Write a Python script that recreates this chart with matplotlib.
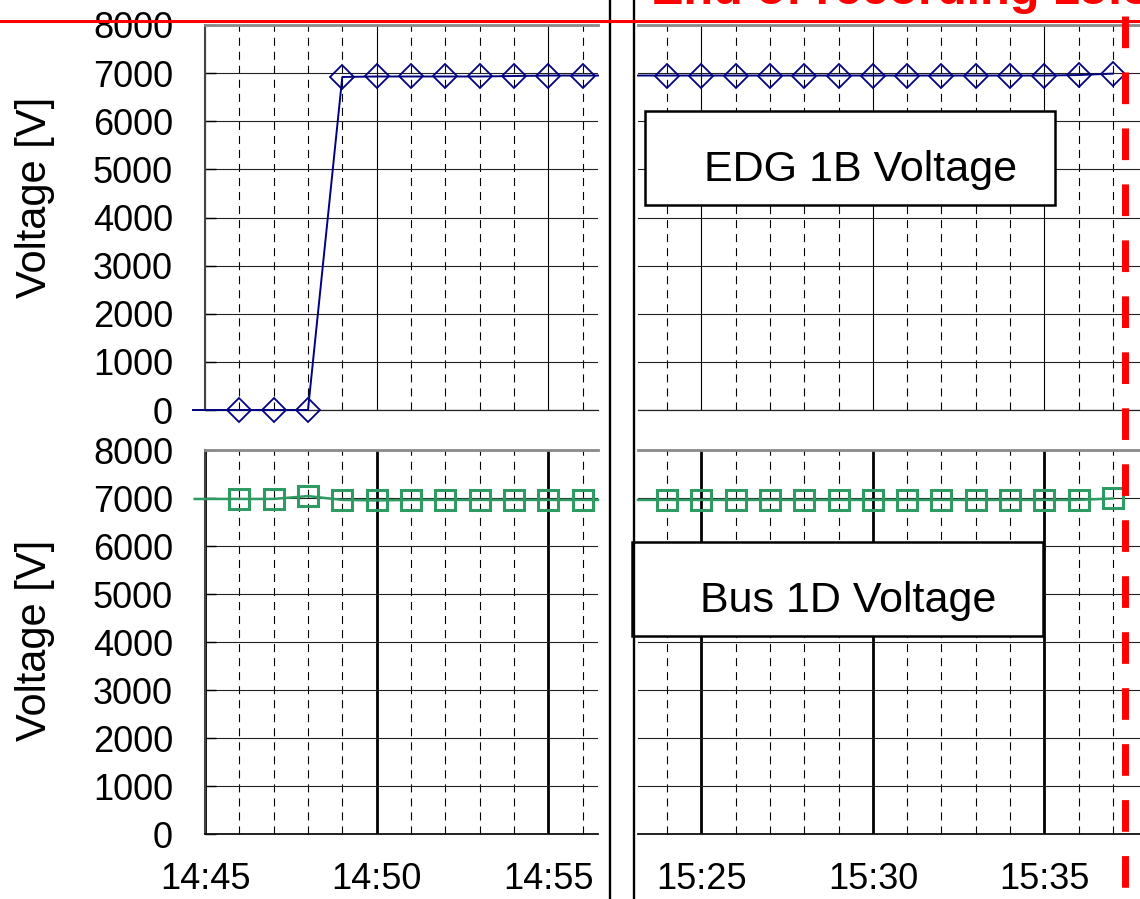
import matplotlib
matplotlib.use('Agg')
import matplotlib.pyplot as plt
from matplotlib.patches import Rectangle
from matplotlib.lines import Line2D
from matplotlib.ticker import MultipleLocator, FixedLocator

plt.rcParams['font.family'] = ['Liberation Sans', 'DejaVu Sans']
plt.rcParams['lines.scale_dashes'] = False

# ---------------- data (time = minutes after 14:00) ----------------
edg_left_t = [44.65, 46, 47, 48, 49, 50, 51, 52, 53, 54, 55, 56, 56.45]
edg_left_v = [0, 0, 0, 0, 6920, 6930, 6930, 6930, 6930, 6940, 6950, 6950, 6950]
edg_right_t = [83.15, 84, 85, 86, 87, 88, 89, 90, 91, 92, 93, 94, 95, 96, 97]
edg_right_v = [6950, 6950, 6950, 6950, 6950, 6950, 6950, 6950, 6950, 6950,
               6950, 6950, 6950, 6960, 6990]

bus_left_t = [44.7, 46, 47, 48, 49, 50, 51, 52, 53, 54, 55, 56, 56.45]
bus_left_v = [6980, 6980, 6980, 7040, 6960, 6950, 6960, 6960, 6960, 6960,
              6960, 6960, 6960]
bus_right_t = [83.15, 84, 85, 86, 87, 88, 89, 90, 91, 92, 93, 94, 95, 96, 97]
bus_right_v = [6960, 6960, 6960, 6960, 6960, 6960, 6960, 6960, 6960, 6960,
               6960, 6960, 6960, 6960, 6990]

left_ticks = [45, 50, 55]
left_tick_labels = ['14:45', '14:50', '14:55']
right_ticks = [85, 90, 95]
right_tick_labels = ['15:25', '15:30', '15:35']
y_ticks = [0, 1000, 2000, 3000, 4000, 5000, 6000, 7000, 8000]

left_xlim = (45, 56.45)
right_xlim = (83.15, 97.79)

title_edg = 'EDG 1B Voltage'
title_bus = 'Bus 1D Voltage'
ylabel = 'Voltage [V]'
red_text = 'End of recording 15:38'

# ---------------- figure ----------------
W, H = 1140, 899
fig = plt.figure(figsize=(W / 100, H / 100), dpi=100)


def fx(px):
    return px / W


def fy(py):
    return 1 - py / H


def make_ax(x0, x1, ytop, ybot):
    return fig.add_axes([fx(x0), fy(ybot), (x1 - x0) / W, (ybot - ytop) / H])


ax_tl = make_ax(205, 598, 25, 410)
ax_tr = make_ax(638, 1140, 25, 410)
ax_bl = make_ax(205, 598, 450, 834)
ax_br = make_ax(638, 1140, 450, 834)

NAVY = '#000080'
GREEN = '#2E9B63'
dash_grid = (0, (5.8, 4.3))


def style(ax, xlim, ticks, labels, is_left, is_bottom):
    ax.set_xlim(*xlim)
    ax.set_ylim(0, 8000)
    ax.xaxis.set_major_locator(FixedLocator(ticks))
    ax.xaxis.set_minor_locator(MultipleLocator(1))
    ax.yaxis.set_major_locator(FixedLocator(y_ticks))
    ax.set_axisbelow(True)
    major_lw = 2.0 if is_bottom else 0.8
    ax.grid(which='major', axis='x', color='black', lw=major_lw)
    ax.grid(which='minor', axis='x', color='black', lw=0.8, linestyle=dash_grid)
    ax.grid(which='major', axis='y', color='#222222', lw=0.8)
    for s in ax.spines.values():
        s.set_visible(False)
    ax.spines['top'].set_visible(True)
    ax.spines['top'].set_color('#8a8a8a')
    ax.spines['top'].set_linewidth(2.0)
    ax.spines['bottom'].set_visible(True)
    ax.spines['bottom'].set_color('#111111' if is_bottom else '#222222')
    ax.spines['bottom'].set_linewidth(1.3 if is_bottom else 0.9)
    if is_left:
        ax.spines['left'].set_visible(True)
        ax.spines['left'].set_color('#444444')
        ax.spines['left'].set_linewidth(1.5)
        ax.tick_params(axis='y', direction='in', length=8, width=1,
                       labelsize=26, pad=23)
        ax.set_yticklabels([str(v) for v in y_ticks])
    else:
        ax.tick_params(axis='y', length=0, labelleft=False)
    if is_bottom:
        ax.set_xticklabels(labels)
        ax.tick_params(axis='x', which='major', length=0, labelsize=26, pad=20)
        ax.tick_params(axis='x', which='minor', direction='in', length=4)
    else:
        ax.tick_params(axis='x', which='both', length=0, labelbottom=False)


style(ax_tl, left_xlim, left_ticks, left_tick_labels, True, False)
style(ax_tr, right_xlim, right_ticks, right_tick_labels, False, False)
style(ax_bl, left_xlim, left_ticks, left_tick_labels, True, True)
style(ax_br, right_xlim, right_ticks, right_tick_labels, False, True)

edg_kw = dict(color=NAVY, lw=1.4, marker='D', ms=12, mew=1.3,
              mfc='none', mec=NAVY, clip_on=False, zorder=5)
ax_tl.plot(edg_left_t, edg_left_v, markevery=list(range(1, len(edg_left_t) - 1)), **edg_kw)
ax_tr.plot(edg_right_t, edg_right_v, markevery=list(range(1, len(edg_right_t))), **edg_kw)

bus_kw = dict(color=GREEN, lw=1.8, marker='s', ms=15, mew=2.2,
              mfc='none', mec=GREEN, clip_on=False, zorder=5)
ax_bl.plot(bus_left_t, bus_left_v, markevery=list(range(1, len(bus_left_t) - 1)), **bus_kw)
ax_br.plot(bus_right_t, bus_right_v, markevery=list(range(1, len(bus_right_t))), **bus_kw)

# label boxes
for (x0, y0, x1, y1, txt, tx, ty) in [
        (645, 111, 1055, 205, title_edg, 861, 181),
        (632, 542, 1043, 636, title_bus, 848, 612)]:
    fig.add_artist(Rectangle((fx(x0), fy(y1)), (x1 - x0) / W, (y1 - y0) / H,
                             transform=fig.transFigure, facecolor='white',
                             edgecolor='black', lw=1.8, zorder=6))
    fig.text(fx(tx), fy(ty), txt, fontsize=31, ha='center', va='baseline',
             zorder=7)

# y labels
fig.text(fx(35), fy(197), ylabel, fontsize=30, rotation=90,
         ha='center', va='center')
fig.text(fx(35), fy(640), ylabel, fontsize=30, rotation=90,
         ha='center', va='center')

# axis-break vertical lines
for xp in (610, 634):
    fig.add_artist(Line2D([fx(xp), fx(xp)], [0, 1], transform=fig.transFigure,
                          color='black', lw=1.7, zorder=8))

# red reference lines and text
fig.add_artist(Line2D([0, 1], [fy(21), fy(21)], transform=fig.transFigure,
                      color='red', lw=2.2, zorder=9))
fig.add_artist(Line2D([fx(1125), fx(1125)], [fy(16), 0],
                      transform=fig.transFigure, color='red', lw=5,
                      linestyle=(0, (22.8, 17.5)), solid_capstyle='butt',
                      dash_capstyle='butt', zorder=9))
fig.text(fx(651), fy(4), red_text, color='red', fontsize=35,
         fontweight='bold', ha='left', va='baseline', zorder=9)

fig.savefig('out.png', dpi=100)
